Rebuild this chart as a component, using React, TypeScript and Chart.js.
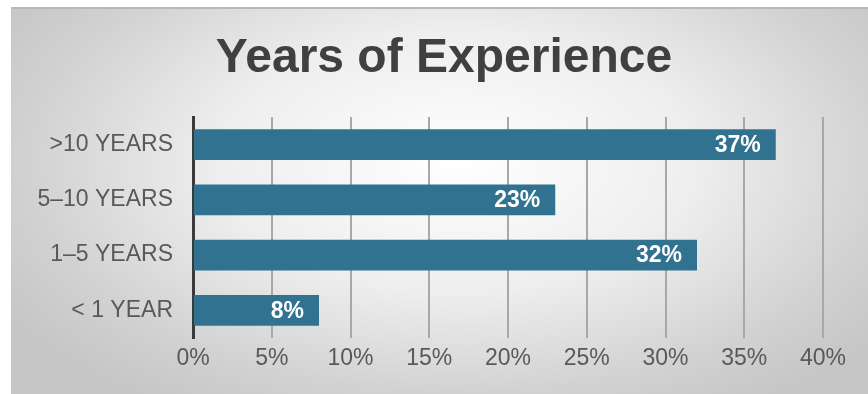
import React, { useEffect, useRef } from 'react';
import { Chart, registerables } from 'chart.js';

Chart.register(...registerables);

const chartTitle = 'Years of Experience';
const categories = ['>10 YEARS', '5–10 YEARS', '1–5 YEARS', '< 1 YEAR'];
const percentages = [37, 23, 32, 8];
const axisMin = 0;
const axisMax = 40;
const axisStep = 5;

const FONT = '"Liberation Sans", Arial, sans-serif';

export default function App() {
  const ref = useRef<HTMLCanvasElement>(null);

  useEffect(() => {
    if (!ref.current) return;

    const titlePlugin = {
      id: 'customTitle',
      afterDraw(chart: any) {
        const ctx = chart.ctx;
        ctx.save();
        ctx.font = `bold 48px ${FONT}`;
        ctx.fillStyle = '#404040';
        ctx.textAlign = 'center';
        ctx.textBaseline = 'middle';
        ctx.fillText(chartTitle, 433, 52);
        ctx.restore();
      },
    };

    const labelPlugin = {
      id: 'barLabels',
      afterDatasetsDraw(chart: any) {
        const ctx = chart.ctx;
        const meta = chart.getDatasetMeta(0);
        ctx.save();
        ctx.font = `bold 23px ${FONT}`;
        ctx.fillStyle = '#ffffff';
        ctx.textAlign = 'right';
        ctx.textBaseline = 'middle';
        meta.data.forEach((bar: any, i: number) => {
          ctx.fillText(`${percentages[i]}%`, bar.x - 15, bar.y + 1);
        });
        ctx.restore();
      },
    };

    const chart = new Chart(ref.current, {
      type: 'bar',
      data: {
        labels: categories,
        datasets: [
          {
            data: percentages,
            backgroundColor: '#30728f',
            borderWidth: 0,
            categoryPercentage: 1,
            barPercentage: 0.56,
          },
        ],
      },
      options: {
        indexAxis: 'y',
        animation: false,
        responsive: false,
        maintainAspectRatio: false,
        layout: { padding: { top: 110, right: 45, left: 0, bottom: 0 } },
        plugins: {
          legend: { display: false },
          title: { display: false },
          tooltip: { enabled: false },
        },
        scales: {
          x: {
            min: axisMin,
            max: axisMax,
            ticks: {
              stepSize: axisStep,
              callback: (v: any) => `${v}%`,
              color: '#595959',
              font: { family: FONT, size: 23 },
              padding: 7,
            },
            grid: { color: '#a8a8a8', lineWidth: 2, drawTicks: false },
            border: { display: false },
            afterFit: (scale: any) => {
              scale.height = 56;
            },
          },
          y: {
            ticks: {
              color: '#595959',
              font: { family: FONT, size: 23 },
              padding: 20,
            },
            grid: { display: false, drawTicks: false },
            border: { display: true, color: '#3a3a3a', width: 3 },
            afterFit: (scale: any) => {
              scale.width = 182;
            },
          },
        },
      },
      plugins: [titlePlugin, labelPlugin],
    });

    return () => chart.destroy();
  }, []);

  return (
    <div style={{ position: 'fixed', left: 0, top: 0, width: 868, height: 394, background: '#ffffff', overflow: 'hidden' }}>
      <div
        style={{
          position: 'absolute',
          left: 11,
          top: 7,
          width: 857,
          height: 387,
          background: 'radial-gradient(ellipse 62% 75% at 52% 40%, #ffffff 0%, #eeeeee 45%, #d2d2d2 80%, #c6c6c6 100%)',
        }}
      >
        <canvas ref={ref} width={857} height={387} style={{ display: 'block', position: 'absolute', left: 0, top: 0 }} />
      </div>
      <div style={{ position: 'absolute', left: 11, top: 7, width: 857, height: 2, background: '#b8b8b8' }} />
    </div>
  );
}
